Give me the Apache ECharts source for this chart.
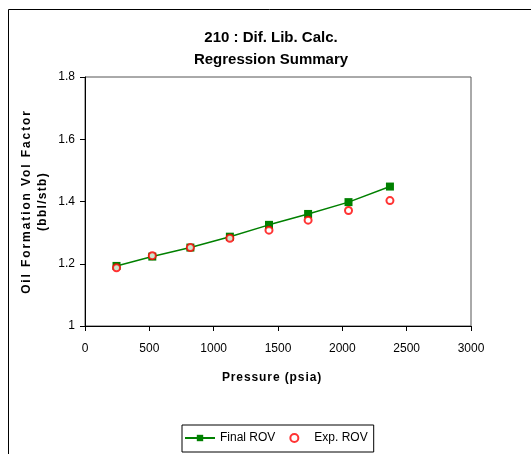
<!DOCTYPE html>
<html><head><meta charset="utf-8">
<script src="https://cdn.jsdelivr.net/npm/echarts@6/dist/echarts.min.js"></script>
<style>html,body{margin:0;padding:0;background:#fff}#c{width:531px;height:454px}</style>
</head><body><div id="c"></div>
<script>
const pressure = [245, 523, 819, 1126, 1430, 1734, 2048, 2370];
const finalROV = [1.193, 1.223, 1.252, 1.287, 1.325, 1.360, 1.398, 1.448];
const expROV   = [1.187, 1.226, 1.252, 1.282, 1.308, 1.340, 1.371, 1.403];
const titleLines = ['210 : Dif. Lib. Calc.', 'Regression Summary'];
const yNameLines = ['Oil Formation Vol Factor', '(bbl/stb)'];
const xName = 'Pressure (psia)';

// letter-spaced axis titles (styling only)
const spacing = {};
spacing[yNameLines[0]] = '1.9px';
spacing[yNameLines[1]] = '1.3px';
spacing[xName] = '0.9px';
const origFill = CanvasRenderingContext2D.prototype.fillText;
CanvasRenderingContext2D.prototype.fillText = function (t, x, y, w) {
  const hasLS = 'letterSpacing' in this;
  const want = (hasLS && spacing[t]) ? spacing[t] : '0px';
  if (hasLS && this.letterSpacing !== want) {
    const f = this.font;
    this.letterSpacing = want;
    this.font = f;
  }
  return w === undefined ? origFill.call(this, t, x, y) : origFill.call(this, t, x, y, w);
};

const font = 'Liberation Sans, Arial, sans-serif';
const chart = echarts.init(document.getElementById('c'), null, {renderer: 'canvas'});
chart.setOption({
  animation: false,
  backgroundColor: '#fff',
  textStyle: {fontFamily: font, color: '#000'},
  title: {
    text: titleLines.join('\n'), left: 266, top: 22, textAlign: 'center',
    textStyle: {fontFamily: font, fontSize: 15, fontWeight: 'bold', color: '#000', lineHeight: 22}
  },
  graphic: [
    {type: 'line', shape: {x1: 8.5, y1: 9.5, x2: 8.5, y2: 454}, style: {stroke: '#000', lineWidth: 1}},
    {type: 'line', shape: {x1: 8.5, y1: 9.5, x2: 531, y2: 9.5}, style: {stroke: '#000', lineWidth: 1}}
  ],
  grid: {left: 85, right: 60, top: 77, bottom: 128, show: true, borderColor: '#555', borderWidth: 1, backgroundColor: 'transparent'},
  xAxis: {
    type: 'value', min: 0, max: 3000, interval: 500,
    name: xName, nameLocation: 'middle', nameGap: 46, nameMoveOverlap: false,
    nameTextStyle: {fontFamily: font, fontSize: 12, fontWeight: 'bold', color: '#000', padding: [0, 12, 0, 0]},
    axisLine: {show: true, lineStyle: {color: '#000', width: 1}},
    axisTick: {show: true, inside: false, length: 5, lineStyle: {color: '#000'}},
    axisLabel: {fontFamily: font, fontSize: 12, color: '#000', margin: 17, formatter: v => String(v)},
    splitLine: {show: false}
  },
  yAxis: {
    type: 'value', min: 1, max: 1.8, interval: 0.2,
    name: yNameLines.join('\n'), nameLocation: 'middle', nameGap: 34, nameMoveOverlap: false,
    nameTextStyle: {fontFamily: font, fontSize: 12, fontWeight: 'bold', color: '#000', lineHeight: 16},
    axisLine: {show: true, lineStyle: {color: '#000', width: 1}},
    axisTick: {show: true, inside: false, length: 5, lineStyle: {color: '#000'}},
    axisLabel: {fontFamily: font, fontSize: 12, color: '#000', margin: 10},
    splitLine: {show: false}
  },
  legend: {
    top: 425, left: 182,
    padding: [7, 6, 8, 2], itemGap: 14, itemWidth: 30, itemHeight: 8,
    borderColor: '#000', borderWidth: 1,
    textStyle: {fontFamily: font, fontSize: 12, color: '#000'},
    data: [{name: 'Final ROV'}, {name: 'Exp. ROV'}]
  },
  series: [
    {
      name: 'Final ROV', type: 'line', data: pressure.map((p, i) => [p, finalROV[i]]),
      symbol: 'rect', symbolSize: 8, showSymbol: true,
      lineStyle: {color: '#008000', width: 1.5}, itemStyle: {color: '#008000'}, z: 2
    },
    {
      name: 'Exp. ROV', type: 'scatter', data: pressure.map((p, i) => [p, expROV[i]]),
      symbol: 'emptyCircle', symbolSize: 7,
      itemStyle: {color: '#ff0000', borderColor: '#ff0000', borderWidth: 1.3}, z: 3
    }
  ]
});
</script></body></html>
